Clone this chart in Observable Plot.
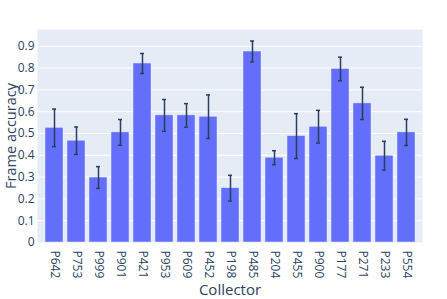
<!DOCTYPE html>
<html>
<head>
<meta charset="utf-8">
<script src="https://cdn.jsdelivr.net/npm/d3@7"></script>
<script src="https://cdn.jsdelivr.net/npm/@observablehq/plot@0.6"></script>
<style>
  body { margin: 0; background: #fff; }
  svg { font-family: "Open Sans", verdana, arial, sans-serif; }
</style>
</head>
<body>
<div id="chart"></div>
<script>
const collectors = ["P642","P753","P999","P901","P421","P953","P609","P452","P198","P485","P204","P455","P900","P177","P271","P233","P554"];
const accuracy = [0.526,0.467,0.298,0.505,0.821,0.583,0.583,0.577,0.249,0.876,0.389,0.488,0.531,0.796,0.638,0.398,0.505];
const errors = [0.086,0.063,0.050,0.059,0.046,0.073,0.054,0.100,0.059,0.048,0.032,0.103,0.075,0.054,0.074,0.066,0.060];
const yTicks = [0,0.1,0.2,0.3,0.4,0.5,0.6,0.7,0.8,0.9];
const xTitle = "Collector";
const yTitle = "Frame accuracy";

const data = collectors.map((c, i) => ({
  collector: c, acc: accuracy[i], lo: accuracy[i] - errors[i], hi: accuracy[i] + errors[i]
}));

const chart = Plot.plot({
  width: 447,
  height: 299,
  marginLeft: 37,
  marginRight: 25,
  marginTop: 29,
  marginBottom: 57,
  style: { fontFamily: '"Open Sans", verdana, arial, sans-serif', fontSize: "12px", color: "#2a3f5f", background: "#fff" },
  x: {
    domain: collectors,
    paddingInner: 0.2,
    paddingOuter: 0.1,
    label: null,
    tickRotate: 90,
    tickSize: 0,
    tickPadding: 8
  },
  y: {
    domain: [0, 0.977],
    ticks: yTicks,
    tickFormat: d => d === 0 ? "0" : d3.format(".1f")(d),
    tickSize: 0,
    tickPadding: 3,
    label: null
  },
  marks: [
    Plot.frame({ fill: "#E5ECF6", stroke: null }),
    Plot.ruleY(yTicks.filter(d => d > 0), { stroke: "#ffffff", strokeWidth: 1 }),
    Plot.barY(data, { x: "collector", y: "acc", fill: "#636EFA", stroke: "#E5ECF6", strokeWidth: 0.5 }),
    Plot.ruleX(data, { x: "collector", y1: "lo", y2: "hi", stroke: "#2a3f5f", strokeWidth: 1.5 }),
    Plot.tickY(data, { x: "collector", y: "lo", stroke: "#2a3f5f", strokeWidth: 1.5, insetLeft: 7, insetRight: 7 }),
    Plot.tickY(data, { x: "collector", y: "hi", stroke: "#2a3f5f", strokeWidth: 1.5, insetLeft: 7, insetRight: 7 }),
    Plot.text([yTitle], { frameAnchor: "left", text: d => d, rotate: -90, textAnchor: "middle", lineAnchor: "middle", dx: -26, fontSize: 14.5, fill: "#2a3f5f" }),
    Plot.text([xTitle], { frameAnchor: "bottom", text: d => d, textAnchor: "middle", lineAnchor: "bottom", dy: 52, fontSize: 15, fill: "#2a3f5f" })
  ]
});
document.getElementById("chart").appendChild(chart);
</script>
</body>
</html>
